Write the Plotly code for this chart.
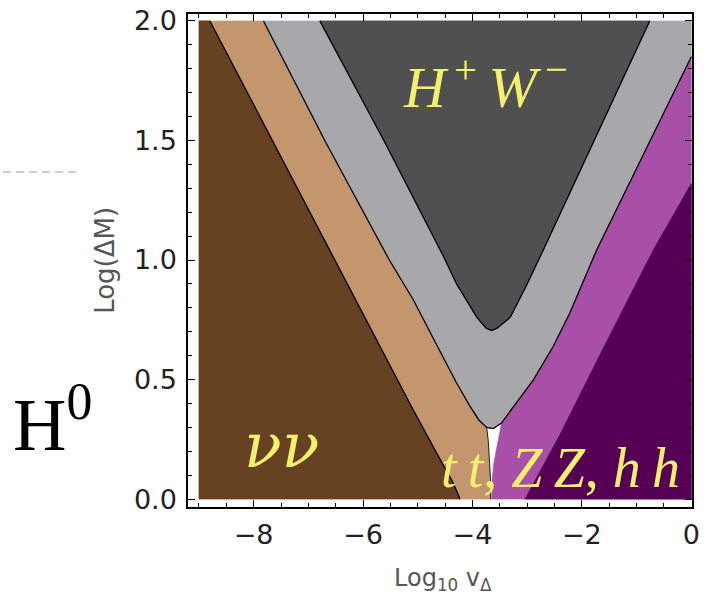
import plotly.graph_objects as go

# ---- data: region boundaries (x = log10 v_Delta, y = Log(Delta M)) ----
x_min, x_max, y_min, y_max = -9.0, 0.0, 0.0, 2.0

# brown (nu nu) / tan boundary, top -> bottom
nu_tan_x = [-8.80, -7.66, -6.61, -5.88, -5.10, -4.60, -4.38, -4.28, -4.23]
nu_tan_y = [2.00, 1.50, 1.04, 0.72, 0.38, 0.17, 0.08, 0.03, 0.00]

# tan / light gray boundary, top -> bottom
tan_gray_x = [-7.82, -6.70, -5.52, -5.08, -4.62, -4.30, -4.05, -3.88, -3.74]
tan_gray_y = [2.00, 1.50, 1.00, 0.833, 0.63, 0.49, 0.39, 0.33, 0.30]

# tan right edge along the white gap, bottom -> top
tan_gap_x = [-3.67, -3.67, -3.69, -3.71, -3.74]
tan_gap_y = [0.00, 0.08, 0.16, 0.24, 0.30]

# tip of light gray V
gray_tip_x = [-3.62]
gray_tip_y = [0.295]

# light gray / magenta boundary, bottom -> top
gray_mag_x = [-3.47, -3.20, -2.89, -2.53, -2.22, -1.73, -0.90, -0.02, 0.00]
gray_mag_y = [0.318, 0.40, 0.498, 0.636, 0.778, 1.042, 1.43, 1.844, 1.85]

# magenta left edge along white gap, bottom -> top
mag_gap_x = [-3.65, -3.64, -3.61, -3.56, -3.50]
mag_gap_y = [0.00, 0.08, 0.15, 0.21, 0.27]

# magenta / dark purple boundary, bottom -> top
purple_x = [-3.04, -2.40, -1.70, -0.70, 0.00]
purple_y = [0.00, 0.27, 0.59, 1.04, 1.32]

# dark gray (H+W-) region outline, left top -> right top
hw_x = [-6.79, -5.62, -4.54, -4.29, -3.92, -3.75, -3.65, -3.55, -3.31, -3.00, -2.71, -1.77, -0.76]
hw_y = [2.00, 1.50, 1.02, 0.90, 0.76, 0.715, 0.705, 0.715, 0.76, 0.90, 1.04, 1.50, 2.00]

x_ticks = [-8, -6, -4, -2, 0]
y_ticks = [0.0, 0.5, 1.0, 1.5, 2.0]

c_brown = "#664222"
c_tan = "#C4966E"
c_lgray = "#A8A8AA"
c_dgray = "#505050"
c_mag = "#A850A8"
c_purple = "#550055"
c_text = "#F2F06E"

fig = go.Figure()


def poly(xs, ys, color):
    fig.add_trace(go.Scatter(x=xs + [xs[0]], y=ys + [ys[0]], fill="toself", fillcolor=color,
                             mode="lines", line=dict(width=0.6, color=color), hoverinfo="skip"))


def edge(xs, ys, w=1.3):
    fig.add_trace(go.Scatter(x=xs, y=ys, mode="lines", line=dict(color="black", width=w),
                             hoverinfo="skip"))


# light gray band
poly(tan_gray_x + gray_tip_x + gray_mag_x + [x_max], tan_gray_y + gray_tip_y + gray_mag_y + [y_max], c_lgray)
# dark gray H+W-
poly(hw_x, hw_y, c_dgray)
# tan band (extends under brown)
poly([x_min] + nu_tan_x + tan_gap_x + tan_gray_x[::-1],
     [y_max] + nu_tan_y + tan_gap_y + tan_gray_y[::-1], c_tan)
# brown nu nu
poly([x_min, x_min] + nu_tan_x, [y_min, y_max] + nu_tan_y, c_brown)
# magenta
poly(mag_gap_x + gray_mag_x + [x_max], mag_gap_y + gray_mag_y + [y_min], c_mag)
# dark purple
poly(purple_x + [x_max], purple_y + [y_min], c_purple)

# black boundary lines
edge(nu_tan_x, nu_tan_y)
edge(tan_gray_x + gray_tip_x + gray_mag_x, tan_gray_y + gray_tip_y + gray_mag_y)
edge(tan_gap_x, tan_gap_y, 0.8)
edge(hw_x, hw_y)

tick_font = dict(family="DejaVu Sans", size=27, color="#222222")
fig.update_xaxes(range=[-9.2, 0.013], showline=True, linecolor="black", linewidth=1.5, mirror="ticks",
                 ticks="inside", ticklen=7, tickwidth=1, tickcolor="black", automargin=False,
                 tickvals=x_ticks, ticktext=[("\u2212" + str(-v)) if v < 0 else str(v) for v in x_ticks],
                 minor=dict(dtick=0.5, tick0=0, ticks="inside", ticklen=4, tickcolor="black", showgrid=False),
                 showgrid=False, zeroline=False, tickfont=tick_font, ticklabelstandoff=3,
                 ticklabeloverflow="allow")
fig.update_yaxes(range=[-0.033, 2.029], showline=True, linecolor="black", linewidth=1.5, mirror="ticks",
                 ticks="inside", ticklen=7, tickwidth=1, tickcolor="black", automargin=False,
                 tickvals=y_ticks, ticktext=[f"{v:.1f}" for v in y_ticks],
                 minor=dict(dtick=0.1, tick0=0, ticks="inside", ticklen=4, tickcolor="black", showgrid=False),
                 showgrid=False, zeroline=False, tickfont=tick_font, ticklabelstandoff=4,
                 ticklabeloverflow="allow")

serif = "Liberation Serif, Times New Roman, serif"
ts = "\u2009"
fig.add_annotation(x=-3.77, y=1.74, text=f"<i>H</i><sup>{ts}+</sup><i>{ts}W</i><sup>{ts}\u2212</sup>",
                   showarrow=False, xanchor="center", yanchor="middle",
                   font=dict(family=serif, size=58, color=c_text))
fig.add_annotation(x=-7.5, y=0.225, text="<i>\u03bd\u03bd</i>", showarrow=False, xanchor="center", yanchor="middle",
                   font=dict(family="DejaVu Serif, serif", size=62, color=c_text))
fig.add_annotation(x=-2.40, y=0.13, text=f"<i>t{ts}t</i>, <i>Z{ts}Z</i>, <i>h{ts}h</i>", showarrow=False,
                   xanchor="center", yanchor="middle",
                   font=dict(family=serif, size=56, color=c_text))

# outside texts
fig.add_annotation(xref="paper", yref="paper", x=-0.268, y=0.178, text="H<sup>0</sup>", showarrow=False,
                   xanchor="center", yanchor="middle",
                   font=dict(family=serif, size=74, color="black"))
fig.add_annotation(xref="paper", yref="paper", x=0.506, y=-0.148, text="Log<sub>10</sub> v<sub>\u0394</sub>",
                   showarrow=False, xanchor="center", yanchor="middle",
                   font=dict(family="DejaVu Sans", size=24, color="#555555"))
fig.add_annotation(xref="paper", yref="paper", x=-0.165, y=0.501, text="Log(\u0394M)", textangle=-90,
                   showarrow=False, xanchor="center", yanchor="middle",
                   font=dict(family="DejaVu Sans", size=26, color="#555555"))
fig.add_shape(type="line", xref="paper", yref="paper", x0=-0.367, x1=-0.220, y0=0.6795, y1=0.6795,
              line=dict(color="#A9C1D9", width=1.5, dash="8px,5px"))

fig.update_layout(width=709, height=602, margin=dict(l=188, r=17, t=14, b=95, autoexpand=False),
                  plot_bgcolor="white", paper_bgcolor="white", showlegend=False)

# remove the default 8px page margin so the figure fills the window exactly; hide the mode bar
fig.write_html("out.html", config={"displayModeBar": False},
               post_script="document.body.style.margin='0';")
